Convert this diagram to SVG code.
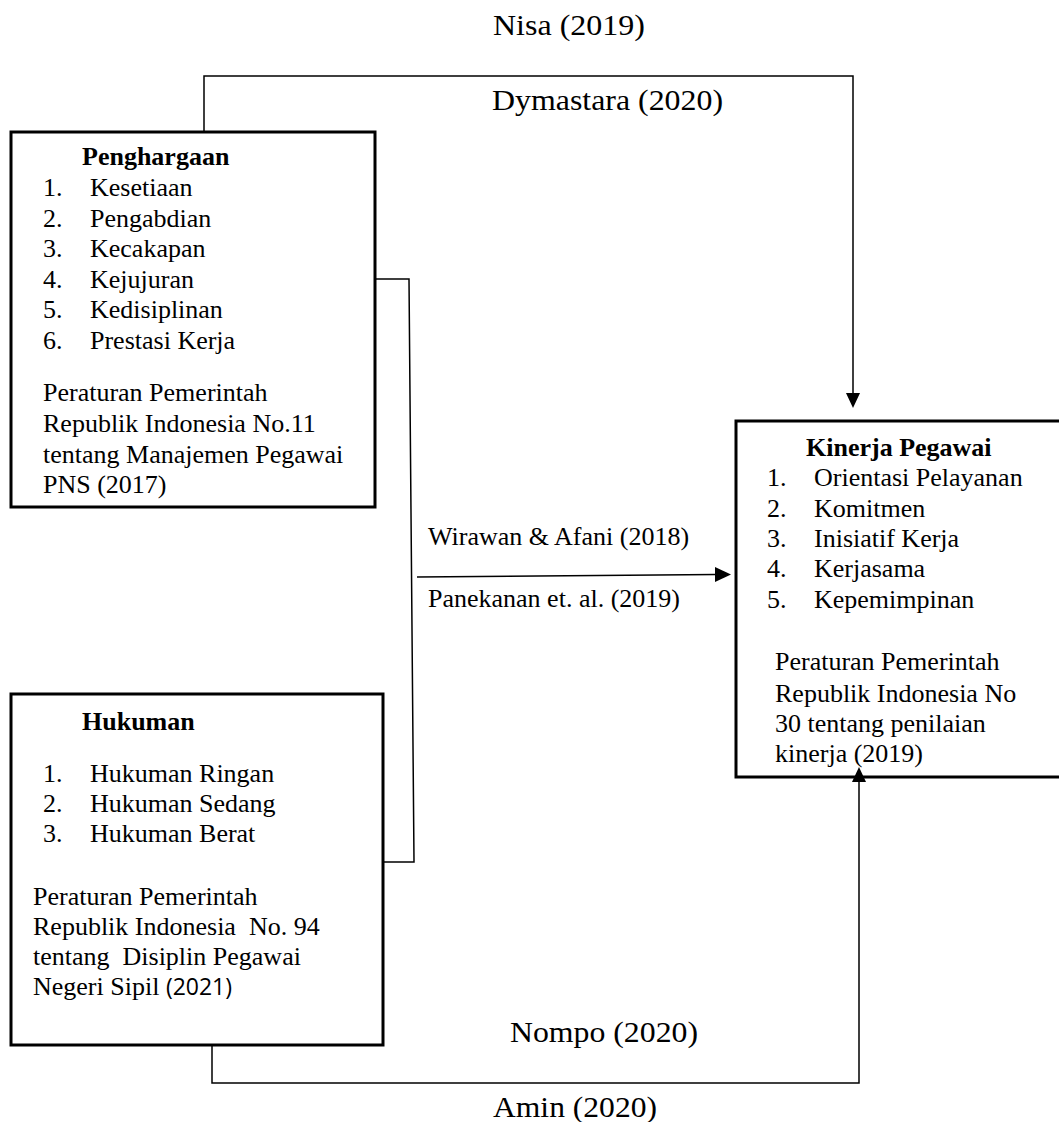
<svg xmlns="http://www.w3.org/2000/svg" width="1059" height="1122" viewBox="0 0 1059 1122">
<style>
.box{fill:#fff;stroke:#000;stroke-width:3}
.t{font-family:"Liberation Serif","Times New Roman",serif;font-size:26px;fill:#000}
.b{font-weight:bold}
.lbl{font-family:"Liberation Serif","Times New Roman",serif;font-size:30px;fill:#000}
.c{fill:none;stroke:#000;stroke-width:1.5}
</style>
<rect width="1059" height="1122" fill="#fff"/>
<g id="penghargaan">
<rect class="box" x="11" y="132" width="364" height="375"/>
<text class="t b" x="82" y="165">Penghargaan</text>
<text class="t" x="43" y="196">1.</text><text class="t" x="90" y="196">Kesetiaan</text>
<text class="t" x="43" y="227">2.</text><text class="t" x="90" y="227">Pengabdian</text>
<text class="t" x="43" y="257">3.</text><text class="t" x="90" y="257">Kecakapan</text>
<text class="t" x="43" y="288">4.</text><text class="t" x="90" y="288">Kejujuran</text>
<text class="t" x="43" y="318">5.</text><text class="t" x="90" y="318">Kedisiplinan</text>
<text class="t" x="43" y="349">6.</text><text class="t" x="90" y="349">Prestasi Kerja</text>
<text class="t" x="43" y="401">Peraturan Pemerintah</text>
<text class="t" x="43" y="432">Republik Indonesia No.11</text>
<text class="t" x="43" y="463">tentang Manajemen Pegawai</text>
<text class="t" x="43" y="493">PNS (2017)</text>
</g>
<g id="hukuman">
<rect class="box" x="11" y="694" width="372" height="351"/>
<text class="t b" x="82" y="730">Hukuman</text>
<text class="t" x="43" y="782">1.</text><text class="t" x="90" y="782">Hukuman Ringan</text>
<text class="t" x="43" y="812">2.</text><text class="t" x="90" y="812">Hukuman Sedang</text>
<text class="t" x="43" y="842">3.</text><text class="t" x="90" y="842">Hukuman Berat</text>
<text class="t" x="33" y="905">Peraturan Pemerintah</text>
<text class="t" x="33" y="935" xml:space="preserve">Republik Indonesia  No. 94</text>
<text class="t" x="33" y="965" xml:space="preserve">tentang  Disiplin Pegawai</text>
<text class="t" x="33" y="995">Negeri Sipil <tspan font-family="'Open Sans','Liberation Sans',sans-serif" font-size="23">(2021)</tspan></text>
</g>
<g id="kinerja">
<rect class="box" x="736" y="421" width="330" height="356"/>
<text class="t b" x="806" y="456">Kinerja Pegawai</text>
<text class="t" x="767" y="486">1.</text><text class="t" x="814" y="486">Orientasi Pelayanan</text>
<text class="t" x="767" y="517">2.</text><text class="t" x="814" y="517">Komitmen</text>
<text class="t" x="767" y="547">3.</text><text class="t" x="814" y="547">Inisiatif Kerja</text>
<text class="t" x="767" y="577">4.</text><text class="t" x="814" y="577">Kerjasama</text>
<text class="t" x="767" y="608">5.</text><text class="t" x="814" y="608">Kepemimpinan</text>
<text class="t" x="775" y="670">Peraturan Pemerintah</text>
<text class="t" x="775" y="702">Republik Indonesia No</text>
<text class="t" x="775" y="732">30 tentang penilaian</text>
<text class="t" x="775" y="762">kinerja (2019)</text>
</g>
<g id="connectors">
<polyline class="c" points="204,131 204,76 853,76 853,395"/>
<path d="M846,393 L860,393 L853,408 Z" fill="#000"/>
<polyline class="c" points="376,279 409,279 414,862 383,862"/>
<line class="c" x1="417" y1="577" x2="716" y2="574.5"/>
<path d="M715,567 L731,574.5 L715,582 Z" fill="#000"/>
<polyline class="c" points="212,1045 212,1083 859,1083 859,782"/>
<path d="M852,782 L866,782 L859,767 Z" fill="#000"/>
<text class="lbl" x="493" y="35" textLength="152" lengthAdjust="spacingAndGlyphs">Nisa (2019)</text>
<text class="lbl" x="492" y="110" textLength="231" lengthAdjust="spacingAndGlyphs">Dymastara (2020)</text>
<text class="t" x="428" y="545">Wirawan &amp; Afani (2018)</text>
<text class="t" x="428" y="607">Panekanan et. al. (2019)</text>
<text class="lbl" x="510" y="1042" textLength="188" lengthAdjust="spacingAndGlyphs">Nompo (2020)</text>
<text class="lbl" x="493" y="1117" textLength="164" lengthAdjust="spacingAndGlyphs">Amin (2020)</text>
</g>
</svg>
